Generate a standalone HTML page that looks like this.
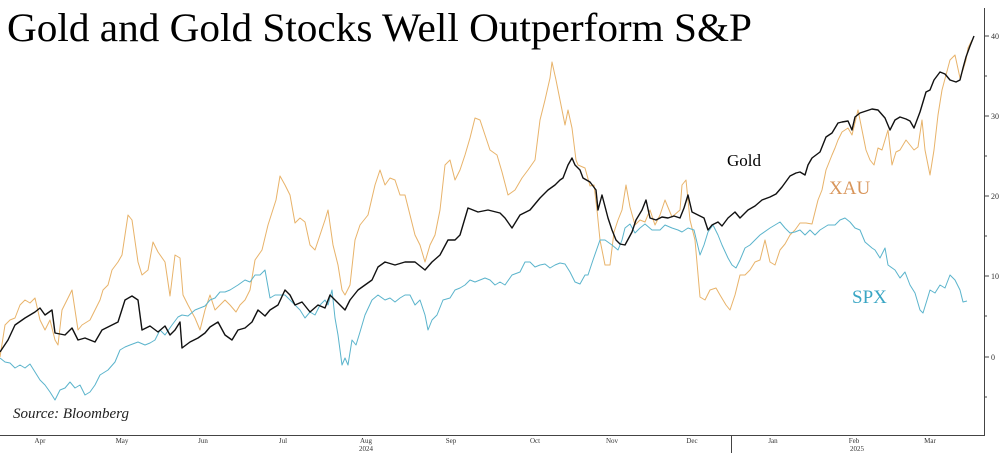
<!DOCTYPE html>
<html><head><meta charset="utf-8"><style>
body{margin:0;background:#fff}
svg{display:block}
</style></head><body>
<svg width="1000" height="453" viewBox="0 0 1000 453" xmlns="http://www.w3.org/2000/svg" font-family="Liberation Serif, serif">
<rect width="1000" height="453" fill="#fff"/>
<text x="7" y="41" font-size="40" textLength="745" lengthAdjust="spacingAndGlyphs" fill="#000">Gold and Gold Stocks Well Outperform S&amp;P</text>
<g fill="none" stroke-width="1" stroke-linejoin="round">
<polyline stroke="#e8b36a" points="0,357 5,325 10,320 15,318 20,305 25,300 30,303 35,298 40,320 45,330 50,320 55,340 58,345 62,310 67,300 72,290 78,330 82,325 90,320 95,310 100,300 103,290 108,285 112,270 118,262 122,255 128,215 132,220 138,262 142,275 148,270 153,242 158,252 165,262 170,296 175,255 180,258 183,295 188,305 195,318 200,330 205,310 210,295 215,310 220,305 225,300 230,305 236,312 240,305 245,300 250,290 255,260 262,250 268,225 276,200 280,176 285,185 290,195 295,223 300,218 305,222 310,245 315,250 320,235 325,220 328,210 333,245 338,265 342,290 345,295 350,285 355,240 360,225 368,215 375,185 380,170 385,185 390,178 395,180 400,195 405,195 410,215 415,235 420,245 425,262 430,245 435,235 440,210 445,165 450,160 455,180 460,170 465,155 470,138 475,118 480,120 485,135 490,150 497,155 502,172 508,195 515,190 522,178 528,170 535,160 540,120 545,100 550,78 552,62 556,80 560,100 565,125 568,110 572,128 576,160 578,165 585,168 590,186 594,185 597,210 600,240 605,265 610,265 614,232 618,220 622,210 626,185 630,207 635,225 640,220 645,222 650,210 655,225 660,215 665,200 672,217 680,210 682,185 686,180 690,220 695,240 700,297 705,300 710,290 716,288 720,295 726,305 730,310 735,295 740,275 745,275 750,270 755,262 760,260 765,240 770,262 775,265 780,250 785,244 790,235 795,230 800,223 806,223 812,224 818,200 822,190 826,170 832,155 835,148 838,140 842,132 848,128 852,135 858,110 862,130 866,150 870,160 874,165 878,148 882,150 888,130 892,165 896,152 900,150 906,140 910,145 914,150 918,147 922,120 925,150 930,175 934,150 938,115 942,90 946,75 950,60 955,55 960,78 963,70 966,60 968,48 972,40"/>
<polyline stroke="#5bb4cc" points="0,358 5,362 10,363 15,368 20,365 25,368 30,364 35,372 40,380 45,385 50,392 55,400 60,390 65,388 70,382 75,388 80,385 85,395 90,392 95,385 100,375 108,370 115,362 120,350 125,347 130,345 138,342 145,345 150,343 155,340 160,330 165,335 172,325 178,317 182,315 188,316 195,310 200,308 205,306 210,300 215,298 220,292 225,292 230,290 238,285 245,280 250,282 255,275 260,275 265,270 270,298 275,295 280,295 285,295 290,300 295,305 300,310 305,318 310,312 315,315 320,305 325,300 328,305 332,290 335,318 338,335 342,365 345,358 348,365 352,340 356,345 360,332 365,315 372,300 378,295 385,300 390,298 395,302 400,298 405,295 410,295 415,305 420,300 425,315 428,330 432,320 437,315 443,300 450,298 455,290 460,288 465,285 470,280 475,282 480,280 485,278 490,280 495,285 500,282 505,285 512,275 520,272 525,262 530,262 535,267 540,265 545,264 550,268 555,265 560,263 565,264 570,272 575,282 580,284 585,275 588,275 593,260 600,240 605,240 612,245 618,250 622,240 625,228 630,224 635,233 640,228 645,224 652,230 660,230 665,225 672,228 678,230 682,232 688,228 694,230 700,255 704,245 708,232 713,225 718,235 722,245 728,258 732,265 736,268 740,260 745,248 750,245 760,235 770,228 780,222 785,228 790,233 795,232 800,230 805,235 810,230 815,235 820,230 828,225 835,225 840,220 845,218 850,222 855,228 860,230 865,242 872,248 875,250 880,258 885,248 888,265 895,270 900,278 905,272 910,285 915,293 920,310 923,313 927,300 930,290 935,293 940,285 945,288 950,275 955,280 960,290 963,302 967,301"/>
<polyline stroke="#111" stroke-width="1.4" points="0,352 8,340 15,325 25,318 30,315 35,312 40,308 45,315 52,310 55,333 65,335 72,328 78,340 85,338 95,342 102,330 110,326 118,322 125,300 132,296 138,300 142,330 150,326 158,332 165,326 170,335 175,330 180,322 182,348 190,342 198,338 205,333 210,327 218,322 225,335 232,340 238,330 245,328 252,322 258,310 265,316 270,310 278,305 285,290 290,295 295,305 302,302 310,312 318,305 325,308 330,295 335,300 345,310 350,300 358,290 365,285 372,280 378,267 385,262 395,265 405,262 415,262 425,270 432,262 440,255 448,240 455,240 460,235 468,208 478,212 488,210 500,213 505,218 512,228 520,215 530,210 540,198 548,190 555,185 560,180 563,178 568,165 572,158 575,165 580,170 583,178 590,182 596,190 598,210 602,195 608,218 612,230 616,240 620,244 625,245 632,232 636,220 642,210 646,200 650,218 656,220 662,217 668,218 674,216 680,218 684,208 688,195 692,212 698,215 704,218 708,230 712,225 718,222 722,226 728,218 735,212 740,218 748,210 755,206 762,200 770,197 776,194 782,187 790,176 796,173 800,172 805,175 808,165 812,158 820,152 826,137 832,133 838,123 842,122 848,121 852,130 855,117 860,113 866,111 872,109 878,110 885,118 890,130 895,120 900,117 906,119 910,121 914,128 920,112 926,92 930,90 934,80 940,72 945,74 950,80 956,82 960,80 963,68 966,57 970,46 974,36"/>
</g>
<text x="727" y="166" font-size="17" fill="#000">Gold</text>
<text x="829" y="194" font-size="19" fill="#d8955a">XAU</text>
<text x="852" y="303" font-size="19" fill="#3aa6c4">SPX</text>
<text x="13" y="418" font-size="15" font-style="italic" fill="#222">Source: Bloomberg</text>
<g stroke="#444" stroke-width="1">
<line x1="0" y1="435.5" x2="985" y2="435.5"/>
<line x1="984.5" y1="8" x2="984.5" y2="436"/>
<line x1="985" y1="36" x2="989" y2="36"/><line x1="985" y1="116" x2="989" y2="116"/><line x1="985" y1="196" x2="989" y2="196"/><line x1="985" y1="276" x2="989" y2="276"/><line x1="985" y1="357" x2="989" y2="357"/>
<line x1="985" y1="76" x2="987" y2="76"/><line x1="985" y1="156" x2="987" y2="156"/><line x1="985" y1="236" x2="987" y2="236"/><line x1="985" y1="316" x2="987" y2="316"/><line x1="985" y1="397" x2="987" y2="397"/>
<line x1="731.5" y1="436" x2="731.5" y2="453"/>
</g>
<g font-size="8" fill="#333">
<text x="991" y="39">40</text><text x="991" y="119">30</text><text x="991" y="199">20</text><text x="991" y="279">10</text><text x="991" y="360">0</text>
</g>
<g font-size="7" fill="#333" text-anchor="middle">
<text x="40" y="443">Apr</text><text x="122" y="443">May</text><text x="203" y="443">Jun</text><text x="283" y="443">Jul</text><text x="366" y="443">Aug</text><text x="451" y="443">Sep</text><text x="535" y="443">Oct</text><text x="612" y="443">Nov</text><text x="692" y="443">Dec</text><text x="773" y="443">Jan</text><text x="854" y="443">Feb</text><text x="930" y="443">Mar</text>
<text x="366" y="451">2024</text><text x="857" y="451">2025</text>
</g>
</svg>
</body></html>
